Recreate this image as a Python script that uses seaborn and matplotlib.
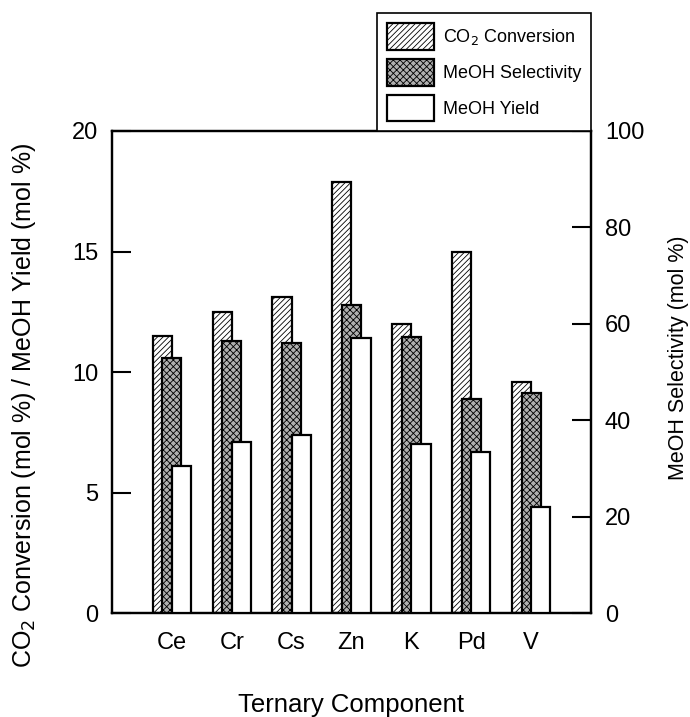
import numpy as np
import pandas as pd
import seaborn as sns
import matplotlib.pyplot as plt
from matplotlib.patches import Patch

components = ["Ce", "Cr", "Cs", "Zn", "K", "Pd", "V"]
co2_conversion = [11.5, 12.5, 13.1, 17.9, 12.0, 15.0, 9.6]
meoh_selectivity = [53.0, 56.4, 56.0, 63.8, 57.2, 44.5, 45.7]
meoh_yield = [6.1, 7.1, 7.4, 11.4, 7.0, 6.7, 4.4]

sns.set_style("ticks")
plt.rcParams["font.family"] = ["Liberation Sans", "DejaVu Sans"]
plt.rcParams["hatch.linewidth"] = 0.6
for key in ["text.color", "axes.labelcolor", "xtick.color", "ytick.color", "axes.edgecolor"]:
    plt.rcParams[key] = "black"

pos = np.arange(len(components))
width = 0.32
shift = 0.16

fig = plt.figure(figsize=(6.9, 7.17), dpi=100)
ax = fig.add_axes([0.1623, 0.145, 0.6942, 0.6723])
ax2 = ax.twinx()
ax3 = ax.twinx()

df = pd.DataFrame({"pos": pos, "conv": co2_conversion, "sel": meoh_selectivity, "yld": meoh_yield})

sns.barplot(x=df["pos"] - shift, y=df["conv"], native_scale=True, width=width,
            errorbar=None, ax=ax)
for p in ax.patches:
    p.set_facecolor("white")
    p.set_edgecolor("black")
    p.set_hatch("//////")
    p.set_linewidth(1.6)

sns.barplot(x=df["pos"], y=df["sel"], native_scale=True, width=width,
            errorbar=None, ax=ax2)
for p in ax2.patches:
    p.set_facecolor("#b0b0b0")
    p.set_edgecolor("black")
    p.set_hatch("xxxxx")
    p.set_linewidth(1.6)

sns.barplot(x=df["pos"] + shift, y=df["yld"], native_scale=True, width=width,
            errorbar=None, ax=ax3)
for p in ax3.patches:
    p.set_facecolor("white")
    p.set_edgecolor("black")
    p.set_linewidth(1.6)

ax.set_xlim(-1, 7)
ax.set_ylim(0, 20)
ax2.set_ylim(0, 100)
ax3.set_ylim(0, 20)
ax3.axis("off")

ax.set_xticks(pos, components)
ax.tick_params(axis="x", length=0, pad=14, labelsize=17)
ax.set_yticks([0, 5, 10, 15, 20])
ax.tick_params(axis="y", direction="in", length=14, width=1.5, labelsize=17, pad=10)
ax2.set_yticks([0, 20, 40, 60, 80, 100])
ax2.tick_params(axis="y", direction="in", length=14, width=1.5, labelsize=17, pad=10)

for a in (ax, ax2):
    for s in a.spines.values():
        s.set_linewidth(1.6)
        s.set_visible(True)

ax.set_xlabel("Ternary Component", fontsize=18.5)
ax.xaxis.set_label_coords(0.5, -0.165)
ax.set_ylabel("CO$_2$ Conversion (mol %) / MeOH Yield (mol %)", fontsize=18)
ax.yaxis.set_label_coords(-0.155, 0.43)
ax2.set_ylabel("MeOH Selectivity (mol %)", fontsize=15.5)
ax2.yaxis.set_label_coords(1.16, 0.53)
ax2.set_xlabel("")
ax3.set_xlabel("")

handles = [
    Patch(facecolor="white", edgecolor="black", hatch="//////", linewidth=1.6, label="CO$_2$ Conversion"),
    Patch(facecolor="#b0b0b0", edgecolor="black", hatch="xxxxx", linewidth=1.6, label="MeOH Selectivity"),
    Patch(facecolor="white", edgecolor="black", linewidth=1.6, label="MeOH Yield"),
]
leg = fig.legend(handles=handles, loc="lower right", bbox_to_anchor=(0.8565, 0.817),
                 borderaxespad=0, fontsize=13, handlelength=2.6, handleheight=1.9,
                 handletextpad=0.5, labelspacing=0.5, borderpad=0.55, fancybox=False,
                 framealpha=1, edgecolor="black")
leg.get_frame().set_linewidth(1.2)

fig.savefig("out.png", dpi=100)
